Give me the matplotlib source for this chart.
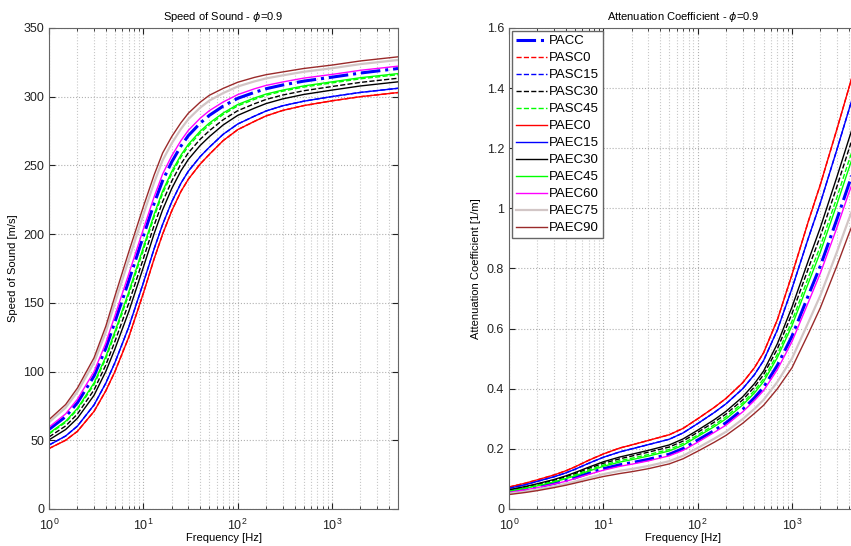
import matplotlib
matplotlib.use("Agg")
import matplotlib.pyplot as plt
from matplotlib.ticker import LogLocator, NullFormatter

plt.rcParams['font.family'] = ['Liberation Sans', 'DejaVu Sans']

# frequencies [Hz]
freq_c = [1, 1.5, 2, 3, 4, 5, 7, 10, 13, 16, 20, 25, 30, 40, 50, 70, 100, 150, 200, 300, 500, 1000, 2000, 5000]

# speed of sound [m/s]
c_pacc   = [57.9, 67.2, 77.3, 96.7, 117.0, 136.3, 165.9, 198.6, 222.3, 238.9, 252.6, 264.0, 271.7, 280.7, 286.4, 293.1, 298.8, 303.1, 305.8, 308.5, 311.3, 314.2, 317.2, 320.5]
c_pasc0  = [44, 50, 56.5, 71, 86, 100, 125, 157, 182, 200, 217, 231, 240, 251, 258, 268, 276, 282, 286, 290, 293.5, 297, 300, 303]
c_pasc15 = [46.5, 53.1, 60.3, 75.7, 91.6, 106.6, 132.4, 164.6, 189.3, 207.1, 223.5, 237.0, 245.8, 256.4, 263.2, 272.6, 280.1, 285.8, 289.6, 293.4, 296.7, 300.1, 303.1, 306.1]
c_pasc30 = [52.4, 60.4, 69.1, 86.6, 104.8, 122.0, 149.8, 182.2, 206.4, 223.6, 238.6, 251.0, 259.2, 269.0, 275.2, 283.2, 289.8, 294.8, 298.0, 301.2, 304.3, 307.4, 310.4, 313.4]
c_pasc45 = [54.5, 63.0, 72.3, 90.5, 109.5, 127.5, 156.0, 188.5, 212.5, 229.5, 244.0, 256.0, 264.0, 273.5, 279.5, 287.0, 293.3, 298.0, 301.0, 304.0, 307.0, 310.0, 313.0, 316.0]
c_paec0  = [44, 50, 56.5, 71, 86, 100, 125, 157, 182, 200, 217, 231, 240, 251, 258, 268, 276, 282, 286, 290, 293.5, 297, 300, 303]
c_paec15 = [46.5, 53.1, 60.3, 75.7, 91.6, 106.6, 132.4, 164.6, 189.3, 207.1, 223.5, 237.0, 245.8, 256.4, 263.2, 272.6, 280.1, 285.8, 289.6, 293.4, 296.7, 300.1, 303.1, 306.1]
c_paec30 = [50.3, 57.8, 66.0, 82.7, 100.1, 116.5, 143.6, 175.9, 200.3, 217.7, 233.2, 246.0, 254.4, 264.5, 270.9, 279.4, 286.4, 291.6, 295.0, 298.4, 301.6, 304.8, 307.8, 310.8]
c_paec45 = [55.1, 63.8, 73.2, 91.7, 110.9, 129.2, 157.9, 190.4, 214.3, 231.3, 245.6, 257.5, 265.4, 274.9, 280.8, 288.1, 294.3, 299.0, 301.9, 304.8, 307.8, 310.8, 313.8, 316.8]
c_paec60 = [59.5, 69.2, 79.8, 99.9, 120.8, 140.7, 170.9, 203.6, 227.1, 243.7, 257.0, 268.0, 275.5, 284.3, 289.8, 296.1, 301.5, 305.7, 308.2, 310.7, 313.5, 316.2, 319.2, 322.2]
c_paec75 = [63.1, 73.7, 85.2, 106.5, 128.8, 150.1, 181.4, 214.3, 237.5, 253.7, 266.1, 276.5, 283.7, 292.0, 297.1, 302.6, 307.4, 311.1, 313.3, 315.5, 318.1, 320.7, 323.7, 326.7]
c_paec90 = [65, 76, 88, 110, 133, 155, 187, 220, 243, 259, 271, 281, 288, 296, 301, 306, 310.5, 314, 316, 318, 320.5, 323, 326, 329]

# frequencies [Hz]
freq_a = [1, 1.5, 2, 3, 4, 5, 7, 10, 15, 20, 30, 50, 70, 100, 150, 200, 300, 400, 500, 700, 1000, 1500, 2000, 3000, 4000, 5000]

# attenuation coefficient [1/m]
a_pacc   = [0.057, 0.066, 0.073, 0.085, 0.095, 0.104, 0.119, 0.134, 0.147, 0.154, 0.165, 0.182, 0.201, 0.229, 0.261, 0.287, 0.331, 0.370, 0.405, 0.478, 0.575, 0.713, 0.809, 0.965, 1.080, 1.165]
a_pasc0  = [0.073, 0.086, 0.097, 0.113, 0.127, 0.140, 0.162, 0.183, 0.203, 0.213, 0.228, 0.247, 0.268, 0.300, 0.338, 0.368, 0.420, 0.470, 0.520, 0.630, 0.780, 0.960, 1.080, 1.265, 1.400, 1.505]
a_pasc15 = [0.069, 0.081, 0.092, 0.107, 0.120, 0.132, 0.152, 0.172, 0.190, 0.200, 0.214, 0.232, 0.253, 0.284, 0.321, 0.350, 0.400, 0.447, 0.494, 0.596, 0.734, 0.904, 1.019, 1.197, 1.327, 1.428]
a_pasc30 = [0.062, 0.073, 0.082, 0.095, 0.107, 0.117, 0.135, 0.152, 0.167, 0.176, 0.189, 0.206, 0.226, 0.255, 0.289, 0.316, 0.363, 0.406, 0.447, 0.533, 0.650, 0.803, 0.908, 1.074, 1.196, 1.289]
a_pasc45 = [0.060, 0.070, 0.079, 0.092, 0.103, 0.113, 0.130, 0.146, 0.161, 0.169, 0.181, 0.198, 0.218, 0.246, 0.280, 0.307, 0.353, 0.394, 0.433, 0.515, 0.625, 0.773, 0.875, 1.038, 1.158, 1.248]
a_paec0  = [0.073, 0.086, 0.097, 0.113, 0.127, 0.140, 0.162, 0.183, 0.203, 0.213, 0.228, 0.247, 0.268, 0.300, 0.338, 0.368, 0.420, 0.470, 0.520, 0.630, 0.780, 0.960, 1.080, 1.265, 1.400, 1.505]
a_paec15 = [0.069, 0.081, 0.092, 0.107, 0.120, 0.132, 0.152, 0.172, 0.190, 0.200, 0.214, 0.232, 0.253, 0.284, 0.321, 0.350, 0.400, 0.447, 0.494, 0.596, 0.734, 0.904, 1.019, 1.197, 1.327, 1.428]
a_paec30 = [0.064, 0.075, 0.084, 0.098, 0.110, 0.121, 0.139, 0.157, 0.173, 0.182, 0.195, 0.213, 0.233, 0.262, 0.297, 0.325, 0.373, 0.417, 0.459, 0.550, 0.672, 0.829, 0.937, 1.106, 1.230, 1.325]
a_paec45 = [0.059, 0.069, 0.077, 0.090, 0.101, 0.110, 0.126, 0.142, 0.156, 0.164, 0.176, 0.193, 0.212, 0.241, 0.274, 0.300, 0.346, 0.386, 0.424, 0.504, 0.610, 0.754, 0.855, 1.015, 1.133, 1.222]
a_paec60 = [0.055, 0.064, 0.071, 0.083, 0.092, 0.101, 0.115, 0.129, 0.142, 0.149, 0.160, 0.177, 0.195, 0.222, 0.255, 0.279, 0.323, 0.361, 0.394, 0.464, 0.557, 0.690, 0.785, 0.937, 1.051, 1.134]
a_paec75 = [0.051, 0.058, 0.065, 0.075, 0.084, 0.091, 0.104, 0.116, 0.127, 0.133, 0.143, 0.159, 0.177, 0.203, 0.234, 0.257, 0.299, 0.333, 0.363, 0.423, 0.501, 0.623, 0.711, 0.856, 0.964, 1.042]
a_paec90 = [0.048, 0.055, 0.061, 0.071, 0.079, 0.086, 0.097, 0.108, 0.118, 0.124, 0.134, 0.150, 0.167, 0.192, 0.222, 0.245, 0.285, 0.318, 0.345, 0.400, 0.470, 0.585, 0.670, 0.810, 0.915, 0.990]

labels = ['PACC', 'PASC0', 'PASC15', 'PASC30', 'PASC45',
          'PAEC0', 'PAEC15', 'PAEC30', 'PAEC45', 'PAEC60', 'PAEC75', 'PAEC90']
colors = ['#0000ff', '#ff0000', '#0000ff', '#000000', '#00ff00',
          '#ff0000', '#0000ff', '#000000', '#00ff00', '#ff00ff', '#d2c6c6', '#9a2a2a']
styles = ['-.', '--', '--', '--', '--', '-', '-', '-', '-', '-', '-', '-']
widths = [2.2, 1.0, 1.0, 1.0, 1.0, 1.0, 1.0, 1.0, 1.0, 1.0, 1.6, 1.0]

speed = [c_pacc, c_pasc0, c_pasc15, c_pasc30, c_pasc45,
         c_paec0, c_paec15, c_paec30, c_paec45, c_paec60, c_paec75, c_paec90]
atten = [a_pacc, a_pasc0, a_pasc15, a_pasc30, a_pasc45,
         a_paec0, a_paec15, a_paec30, a_paec45, a_paec60, a_paec75, a_paec90]

fig = plt.figure(figsize=(8.51, 5.46), dpi=100)
ax1 = fig.add_axes([0.0576, 0.0678, 0.4101, 0.881])
ax2 = fig.add_axes([0.5981, 0.0678, 0.4101, 0.881])

for ax, fx, data in ((ax1, freq_c, speed), (ax2, freq_a, atten)):
    for y, lab, col, ls, lw in zip(data, labels, colors, styles, widths):
        ax.plot(fx, y, ls, color=col, lw=lw, label=lab)
    ax.set_xscale('log')
    ax.set_xlim(1, 5000)
    ax.xaxis.set_minor_locator(LogLocator(base=10, subs=range(2, 10)))
    ax.xaxis.set_minor_formatter(NullFormatter())
    ax.grid(True, which='major', ls=':', color='#b0b0b0', lw=0.8)
    ax.grid(True, which='minor', axis='x', ls=':', color='#c8c8c8', lw=0.8)
    ax.tick_params(which='both', direction='in', top=True, right=True,
                   labelsize=9, colors='#222222')
    ax.tick_params(which='major', length=4)
    ax.tick_params(which='minor', length=2)
    ax.tick_params(axis='x', pad=6)
    for sp in ax.spines.values():
        sp.set_color('#666666')
    ax.set_xlabel('Frequency [Hz]', fontsize=8, labelpad=0)

ax1.set_ylim(0, 350)
ax1.set_ylabel('Speed of Sound [m/s]', fontsize=8)
ax1.set_title('Speed of Sound - $\\phi$=0.9', fontsize=8, pad=6)

ax2.set_ylim(0, 1.6)
ax2.set_yticks([0, 0.2, 0.4, 0.6, 0.8, 1, 1.2, 1.4, 1.6])
ax2.set_yticklabels(['0', '0.2', '0.4', '0.6', '0.8', '1', '1.2', '1.4', '1.6'])
ax2.set_ylabel('Attenuation Coefficient [1/m]', fontsize=8)
ax2.set_title('Attenuation Coefficient - $\\phi$=0.9', fontsize=8, pad=6)
leg = ax2.legend(loc='upper left', fontsize=9.5, labelspacing=0.36,
                 handlelength=2.3, handletextpad=0.2, borderaxespad=0.25,
                 borderpad=0.3, fancybox=False, framealpha=1)
leg.get_frame().set_edgecolor('#666666')

fig.savefig('out.png', dpi=100)
